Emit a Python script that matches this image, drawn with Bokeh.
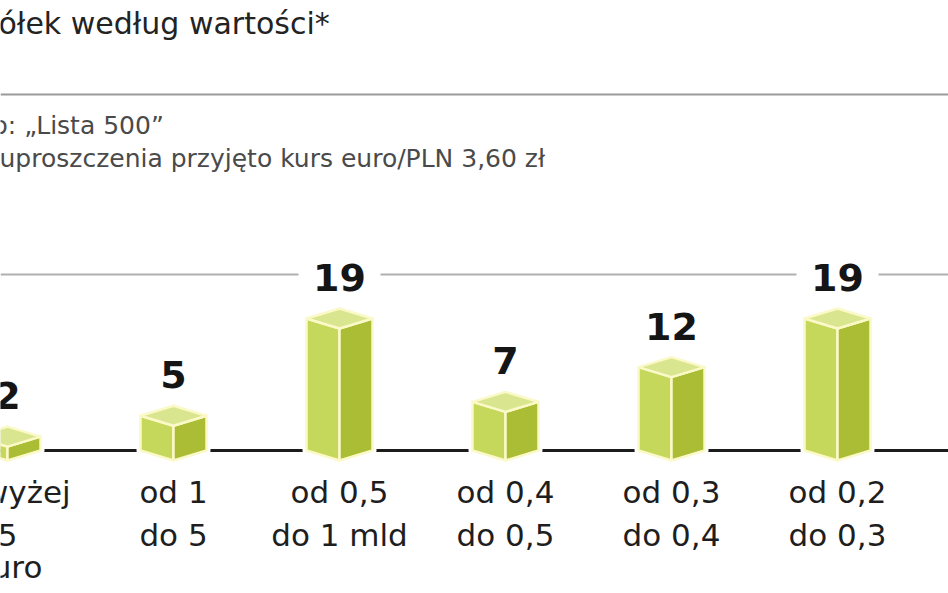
from bokeh.plotting import figure
from bokeh.models import Range1d, Span
from bokeh.core.properties import value
from bokeh.embed import file_html
from bokeh.resources import INLINE

# ---- data ----
categories = ["powyżej\n5\neuro", "od 1\ndo 5", "od 0,5\ndo 1 mld",
              "od 0,4\ndo 0,5", "od 0,3\ndo 0,4", "od 0,2\ndo 0,3"]
counts = [2, 5, 19, 7, 12, 19]
title_text = "ółek według wartości*"
note_source = "o: \u201eLista 500\u201d"
note_rate = "uproszczenia przyjęto kurs euro/PLN 3,60 zł"

# ---- layout constants (pixels) ----
W, H = 948, 593
PX = 6.95          # pixels per unit
BASE_PX = 460      # screen y of value 0 (front bottom corner)
STEP = 166         # pixels between category centres
FIRST_PX = 7       # screen x of first category centre
HALF_W = 33        # half width of box (px)
DROP = 10          # isometric drop of side corners (px)

def ypx(py):
    return (BASE_PX - py) / PX

def xpx(px):
    return (px - FIRST_PX) / STEP

FONT = value("DejaVu Sans")
LEFT_C, RIGHT_C, TOP_C, EDGE_C = "#c6d85c", "#aabd35", "#d9e68f", "#fbf9c8"

p = figure(width=W, height=H, x_range=Range1d(xpx(0), xpx(W)),
           y_range=Range1d(ypx(H), ypx(0)), x_axis_type=None, y_axis_type=None,
           toolbar_location=None, output_backend="svg", min_border=0)
p.outline_line_color = None
p.background_fill_color = "white"
p.border_fill_color = "white"

hw = HALF_W / STEP
dy = DROP / PX
idx = list(range(len(counts)))

sil_xs, sil_ys, l_xs, l_ys, r_xs, r_ys, t_xs, t_ys = ([] for _ in range(8))
for i, v in zip(idx, counts):
    sil_xs.append([i - hw, i, i + hw, i + hw, i, i - hw])
    sil_ys.append([dy, 0, dy, v + dy, v + 2 * dy, v + dy])
    l_xs.append([i - hw, i, i, i - hw])
    l_ys.append([dy, 0, v, v + dy])
    r_xs.append([i, i + hw, i + hw, i])
    r_ys.append([0, dy, v + dy, v])
    t_xs.append([i - hw, i, i + hw, i])
    t_ys.append([v + dy, v, v + dy, v + 2 * dy])

# horizontal rules
p.add_layout(Span(location=ypx(94), dimension="width", line_color="#9a9a9a",
                  line_width=2, level="underlay"))
p.add_layout(Span(location=ypx(274), dimension="width", line_color="#b0b0b0",
                  line_width=2, level="underlay"))
p.add_layout(Span(location=dy, dimension="width", line_color="#1c1c1c",
                  line_width=3, level="underlay"))

# boxes
p.patches(sil_xs, sil_ys, fill_color="white", line_color="white", line_width=8,
          line_join="round")
p.patches(l_xs, l_ys, fill_color=LEFT_C, line_color=EDGE_C, line_width=2.5, line_join="round")
p.patches(r_xs, r_ys, fill_color=RIGHT_C, line_color=EDGE_C, line_width=2.5, line_join="round")
p.patches(t_xs, t_ys, fill_color=TOP_C, line_color=EDGE_C, line_width=2.5, line_join="round")

# value labels with white knock-out behind
p.rect(x=idx, y=[v + 52 / PX for v in counts], width=82, height=44,
       width_units="screen", height_units="screen", fill_color="white", line_color=None)
p.text(x=idx, y=[v + 51 / PX for v in counts], text=[str(v) for v in counts], text_font=FONT,
       text_font_style="bold", text_font_size="38px", text_align="center",
       text_baseline="alphabetic", text_color="#151515")

# category labels
line_base = [491, 534, 566]
for k, base in enumerate(line_base):
    xs, ys, ts = [], [], []
    for i, c in zip(idx, categories):
        parts = c.split("\n")
        if k < len(parts):
            xs.append(i); ys.append(ypx(base)); ts.append(parts[k])
    p.text(x=xs, y=ys, text=ts, text_font=FONT, text_font_size="31px",
           text_align="center", text_baseline="alphabetic", text_color="#1e1e1e")

# title and notes
p.text(x=[xpx(-2)], y=[ypx(23)], text=[title_text], text_font=FONT,
       text_font_size="30px", text_align="left", text_baseline="alphabetic",
       text_color="#232323")
p.text(x=[xpx(-8), xpx(-1)], y=[ypx(125), ypx(158)], text=[note_source, note_rate],
       text_font=FONT, text_font_size="25px", text_align="left",
       text_baseline="alphabetic", text_color="#4a4a4a")

open("out.html", "w").write(file_html(p, INLINE))
